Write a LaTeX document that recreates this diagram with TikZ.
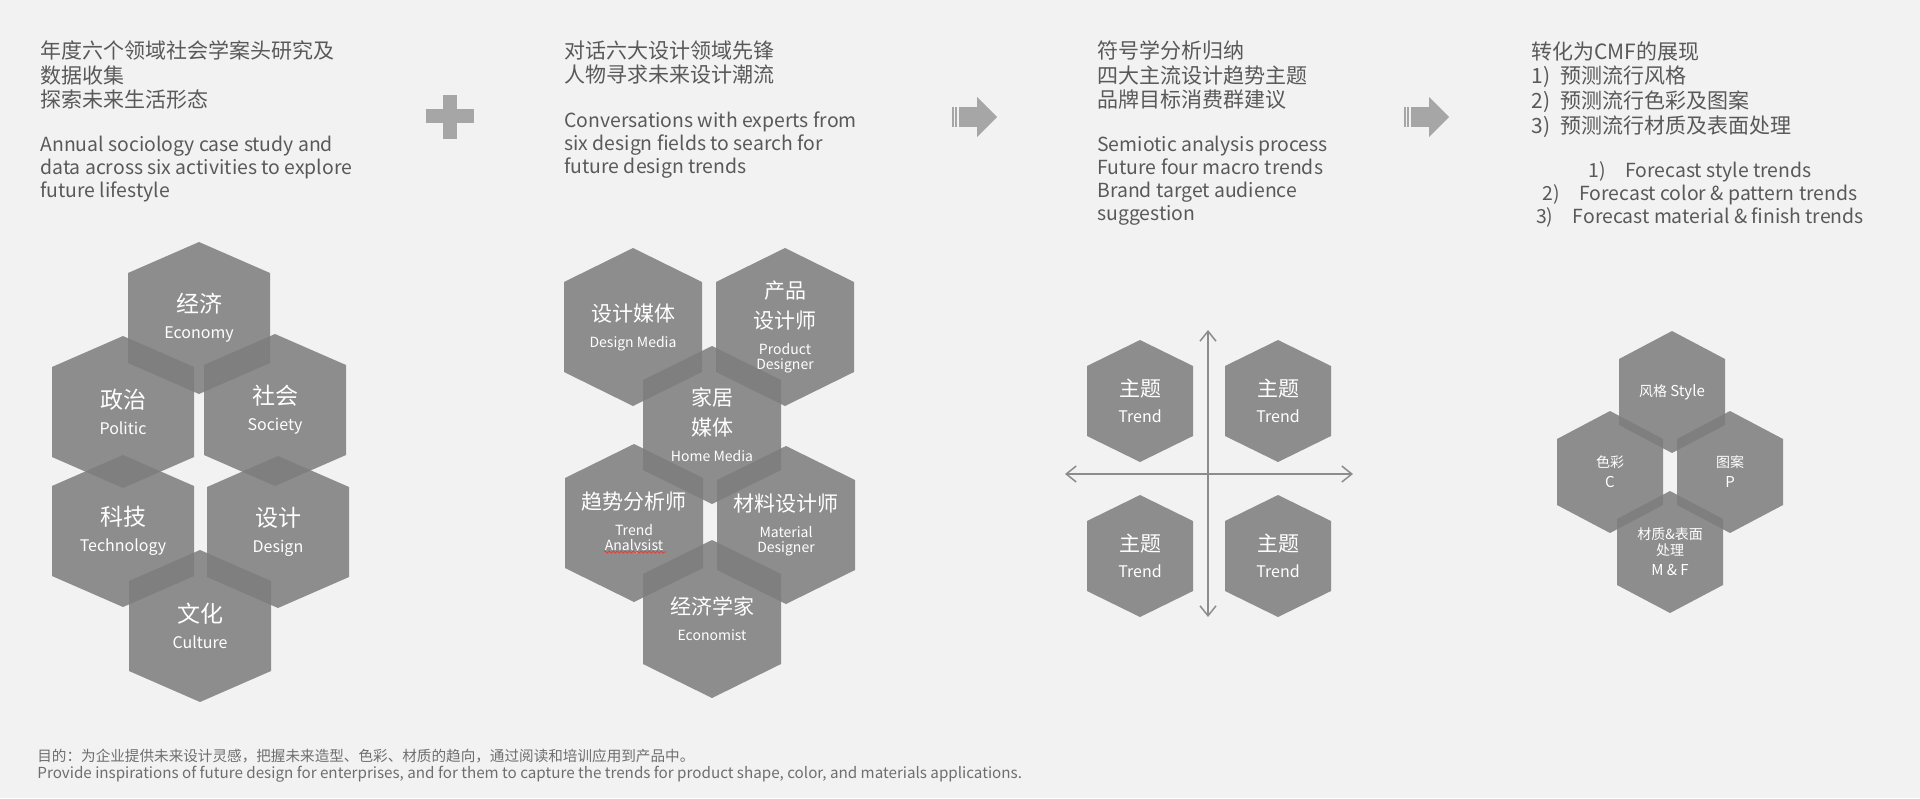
\documentclass[tikz,border=0pt]{standalone}
\usepackage{fontspec}
\setmainfont{Noto Sans CJK SC}
\usetikzlibrary{arrows.meta,positioning,decorations.pathmorphing}
\definecolor{Paper}{HTML}{F2F2F2}
\definecolor{Ink}{HTML}{595959}
\definecolor{SoftInk}{HTML}{6E6E6E}
\definecolor{HexGray}{HTML}{7D7D7D}
\definecolor{Mark}{HTML}{A6A6A6}
\definecolor{Axis}{HTML}{8C8C8C}
\definecolor{Squiggle}{HTML}{E0403A}

\newcommand{\zhhead}{\fontsize{10.5}{12.4}\selectfont}
\newcommand{\enhead}{\fontsize{9.7}{11.5}\selectfont}
\newcommand{\zhA}{\fontsize{11.5}{13}\selectfont}
\newcommand{\zhB}{\fontsize{10.5}{13}\selectfont}
\newcommand{\zhC}{\fontsize{7}{10}\selectfont}

% hexagon size: half width, half height, shoulder
\newcommand{\hexw}{71}
\newcommand{\hexh}{76}
\newcommand{\hexs}{45}
\newcommand{\hexcell}[4][]{%
  \fill[hexfill] (#3) ++(0,-\hexh) -- ++(\hexw,\hexh-\hexs) -- ++(0,2*\hexs)
    -- ++(-\hexw,\hexh-\hexs) -- ++(-\hexw,\hexs-\hexh) -- ++(0,-2*\hexs) -- cycle;
  \node[hexlabel,#1] (#2) at (#3) {#4};}

\begin{document}
\begin{tikzpicture}[x=0.5pt,y=-0.5pt,
    head/.style={anchor=north west,inner sep=0pt,align=left,text=Ink,font=\zhhead},
    desc/.style={anchor=north west,inner sep=0pt,align=left,text=Ink,font=\enhead},
    hexfill/.style={fill=HexGray,fill opacity=0.86},
    hexlabel/.style={text=white,align=center,inner sep=0pt},
    labA/.style={font=\fontsize{8}{13}\selectfont},
    labB/.style={font=\fontsize{7}{13}\selectfont},
    labD/.style={font=\fontsize{7.5}{10}\selectfont},
    axis/.style={Axis,line width=0.75pt,{Straight Barb[length=5pt,width=8pt]}-{Straight Barb[length=5pt,width=8pt]}}]
  \useasboundingbox (0,0) rectangle (1920,798);
  \fill[Paper] (0,0) rectangle (1920,798);

  % headings
  \node[head] (intro-zh) at (40,40) {年度六个领域社会学案头研究及\\数据收集\\探索未来生活形态};
  \node[desc] (intro-en) at (40,136) {Annual sociology case study and\\data across six activities to explore\\future lifestyle};
  \node[head] (talk-zh) at (564,40) {对话六大设计领域先锋\\人物寻求未来设计潮流};
  \node[desc] (talk-en) at (564,111) {Conversations with experts from\\six design fields to search for\\future design trends};
  \node[head] (sem-zh) at (1097,40) {符号学分析归纳\\四大主流设计趋势主题\\品牌目标消费群建议};
  \node[desc] (sem-en) at (1097,136) {Semiotic analysis process\\Future four macro trends\\Brand target audience\\suggestion};
  \node[head] (cmf-zh) at (1531,41) {转化为CMF的展现\\1)\hspace{5pt}预测流行风格\\2)\hspace{5pt}预测流行色彩及图案\\3)\hspace{5pt}预测流行材质及表面处理};
  \node[text=Ink,font=\enhead,align=center,inner sep=0pt] (cmf-en) at (1700,194)
    {1)\quad Forecast style trends\\2)\quad Forecast color \& pattern trends\\3)\quad Forecast material \& finish trends};

  % plus and arrows
  \fill[Mark] (443,95) rectangle (457,139);
  \fill[Mark] (426,109) rectangle (474,123);
  \foreach \ax in {952,1404} {
    \fill[Mark] (\ax,107) rectangle ++(1.5,20);
    \fill[Mark] (\ax+3,107) rectangle ++(2,20);
    \fill[Mark] (\ax+6.5,107) rectangle (\ax+26,127);
    \fill[Mark] (\ax+25,97) -- (\ax+45,117) -- (\ax+25,137) -- cycle;
  }

  % six activities
  \hexcell[labA]{econ}{199,318}{\zhA 经济\\Economy}
  \hexcell[labA]{pol}{123,412}{\zhA 政治\\Politic}
  \hexcell[labA]{soc}{275,410}{\zhA 社会\\Society}
  \hexcell[labA]{tech}{123,531}{\zhA 科技\\Technology}
  \hexcell[labA]{des}{278,532}{\zhA 设计\\Design}
  \hexcell[labA]{cult}{200,626}{\zhA 文化\\Culture}

  % six design fields
  \renewcommand{\hexw}{69}\renewcommand{\hexh}{79}
  \hexcell[labB]{dmedia}{633,327}{\zhB 设计媒体\\Design Media}
  \hexcell[labB]{prod}{785,327}{\zhB 产品\\[2pt]\zhB 设计师\\Product\\[-5.5pt]Designer}
  \hexcell[labB]{trendana}{634,523}{\zhB 趋势分析师\\Trend\\[-5.5pt]Analysist}
  \draw[Squiggle,line width=0.4pt,decorate,decoration={snake,amplitude=0.5pt,segment length=2pt}] (604,552) -- (666,552);
  \hexcell[labB]{matdes}{786,525}{\zhB 材料设计师\\Material\\[-5.5pt]Designer}
  \hexcell[labB]{econo}{712,619}{\zhB 经济学家\\Economist}
  \hexcell[labB]{hmedia}{712,425}{\zhB 家居\\[2pt]\zhB 媒体\\Home Media}

  % four trends
  \renewcommand{\hexw}{53}\renewcommand{\hexh}{61}\renewcommand{\hexs}{35}
  \coordinate (ax-n) at (1208,330);
  \coordinate (ax-s) at (1208,617);
  \coordinate (ax-w) at (1065,474);
  \coordinate (ax-e) at (1353,474);
  \draw[axis] (ax-n) -- (ax-s);
  \draw[axis] (ax-w) -- (ax-e);
  \hexcell[labA]{trend1}{1140,401}{\zhB 主题\\Trend}
  \hexcell[labA]{trend2}{1278,401}{\zhB 主题\\Trend}
  \hexcell[labA]{trend3}{1140,556}{\zhB 主题\\Trend}
  \hexcell[labA]{trend4}{1278,556}{\zhB 主题\\Trend}

  % CMF
  \renewcommand{\hexs}{33}
  \hexcell[labD]{style}{1672,392}{\zhC 风格 \fontsize{7.5}{10}\selectfont Style}
  \hexcell[labD]{colour}{1610,472}{\zhC 色彩\\C}
  \hexcell[labD]{pattern}{1730,472}{\zhC 图案\\P}
  \hexcell[labD]{matfin}{1670,552}{\zhC 材质\&表面\\[-2pt]\zhC 处理\\M \& F}

  % purpose
  \node[anchor=north west,inner sep=0pt,align=left,text=SoftInk,font=\fontsize{7.6}{8.5}\selectfont] (purpose) at (37,749)
    {\fontsize{7.3}{8.5}\selectfont 目的：为企业提供未来设计灵感，把握未来造型、色彩、材质的趋向，通过阅读和培训应用到产品中。\\Provide inspirations of future design for enterprises, and for them to capture the trends for product shape, color, and materials applications.};
\end{tikzpicture}
\end{document}
